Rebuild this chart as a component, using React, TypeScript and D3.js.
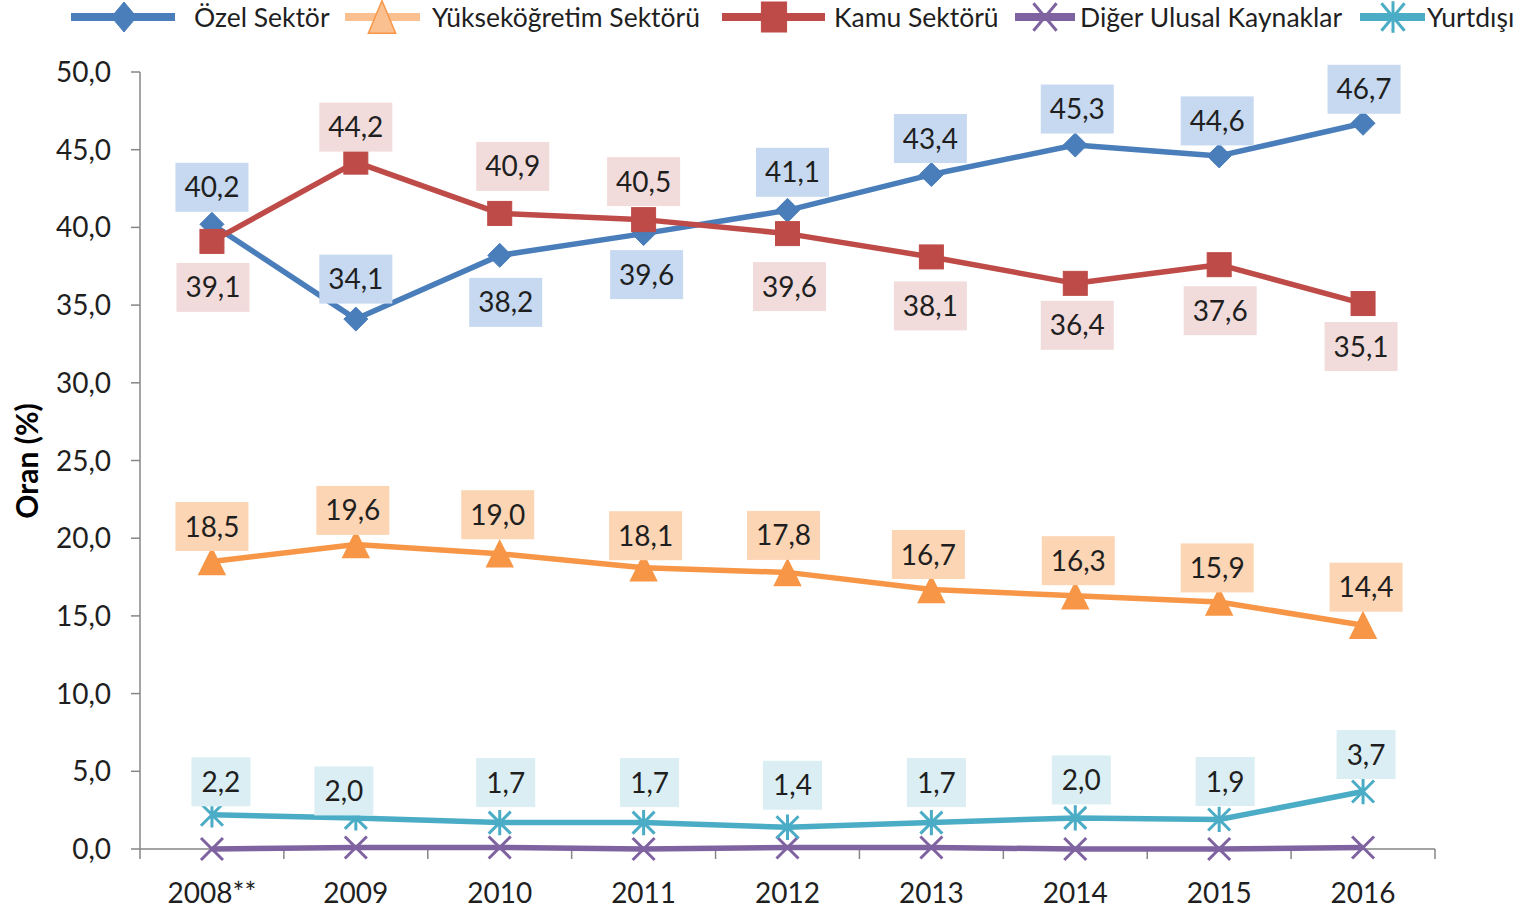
import React from "react";
import * as d3 from "d3";

const categories = ["2008**", "2009", "2010", "2011", "2012", "2013", "2014", "2015", "2016"];
const ozel = [40.2, 34.1, 38.2, 39.6, 41.1, 43.4, 45.3, 44.6, 46.7];
const yuksek = [18.5, 19.6, 19.0, 18.1, 17.8, 16.7, 16.3, 15.9, 14.4];
const kamu = [39.1, 44.2, 40.9, 40.5, 39.6, 38.1, 36.4, 37.6, 35.1];
const diger = [0.0, 0.1, 0.1, 0.0, 0.1, 0.1, 0.0, 0.0, 0.1];
const yurtdisi = [2.2, 2.0, 1.7, 1.7, 1.4, 1.7, 2.0, 1.9, 3.7];
const yTicks = [0, 5, 10, 15, 20, 25, 30, 35, 40, 45, 50];

// label nudges (px) relative to the point
const ozelNudge = [[0, -37], [0, -40], [6, 47], [3, 41], [5, -38], [-1, -36], [2, -36], [-2, -35], [1, -34]];
const kamuNudge = [[1, 46], [0, -35], [13, -47], [0, -38], [2, 53], [-1, 49], [2, 42], [1, 46], [-2, 43]];
const yuksekNudge = [[0, -35], [-3, -34], [-2, -39], [2, -32], [-4, -37], [-3, -35], [3, -35], [-2, -34], [3, -38]];
const yurtNudge = [[9, -33], [-12, -27], [6, -40], [6, -40], [5, -42], [5, -40], [6, -38], [6, -38], [3, -37]];

const FONT = "Lato, 'Open Sans', sans-serif";
const fmt = (v: number) => v.toFixed(1).replace(".", ",");

type MarkerKind = "diamond" | "triangle" | "square" | "x" | "star";

function Marker({ kind, x, y, color, fill, sx = 1, sy = 1 }: { kind: MarkerKind; x: number; y: number; color: string; fill?: string; sx?: number; sy?: number }) {
  const f = fill || color;
  if (kind === "diamond") {
    const w = 12 * sx, h = 12 * sy;
    return <path d={`M${x},${y - h}L${x + w},${y}L${x},${y + h}L${x - w},${y}Z`} fill={f} stroke={color} strokeWidth={1} />;
  }
  if (kind === "square") {
    const w = 12 * sx, h = 12 * sy;
    return <rect x={x - w} y={y - h} width={2 * w} height={2 * h} fill={f} stroke={color} strokeWidth={1} />;
  }
  if (kind === "triangle") {
    const w = 13 * sx, h = 13 * sy;
    return <path d={`M${x},${y - h}L${x + w},${y + h}L${x - w},${y + h}Z`} fill={f} stroke={color} strokeWidth={1.5} />;
  }
  if (kind === "x") {
    const w = 11 * sx, h = 11 * sy;
    return <path d={`M${x - w},${y - h}L${x + w},${y + h}M${x - w},${y + h}L${x + w},${y - h}`} stroke={color} strokeWidth={3} fill="none" />;
  }
  const w = 11 * sx, h = 11 * sy;
  return <path d={`M${x - w},${y - h}L${x + w},${y + h}M${x - w},${y + h}L${x + w},${y - h}M${x},${y - h * 1.15}L${x},${y + h * 1.15}`} stroke={color} strokeWidth={3} fill="none" />;
}

export default function App() {
  const W = 1526, H = 910;
  const left = 140, right = 1435, top = 72, bottom = 849;
  const x = d3.scaleBand<string>().domain(categories).range([left, right]).paddingInner(0).paddingOuter(0);
  const bw = x.bandwidth();
  const cx = (c: string) => (x(c) as number) + bw / 2;
  const y = d3.scaleLinear().domain([0, 50]).range([bottom, top]);

  const series = [
    { name: "Özel Sektör", values: ozel, color: "#4a7ebb", kind: "diamond" as MarkerKind, labelBg: "#c6d9f0", nudge: ozelNudge },
    { name: "Yükseköğretim Sektörü", values: yuksek, color: "#f79646", kind: "triangle" as MarkerKind, labelBg: "#fcd5b4", nudge: yuksekNudge },
    { name: "Kamu Sektörü", values: kamu, color: "#be4b48", kind: "square" as MarkerKind, labelBg: "#f2dcdb", nudge: kamuNudge },
    { name: "Diğer Ulusal Kaynaklar", values: diger, color: "#7f63a1", kind: "x" as MarkerKind, labelBg: null, nudge: null },
    { name: "Yurtdışı", values: yurtdisi, color: "#4bacc6", kind: "star" as MarkerKind, labelBg: "#daeef3", nudge: yurtNudge },
  ];

  const line = d3.line<number>().x((_, i) => cx(categories[i])).y((d) => y(d));

  const legendItems = [
    { s: 0, l1: 71, l2: 175, m: 124, t: 194, lineColor: "#4a7ebb", fill: undefined as string | undefined, mcolor: "#4a7ebb" },
    { s: 1, l1: 345, l2: 420, m: 382, t: 432, lineColor: "#fac090", fill: "#fac090", mcolor: "#f79646" },
    { s: 2, l1: 722, l2: 825, m: 774, t: 834, lineColor: "#be4b48", fill: undefined, mcolor: "#be4b48" },
    { s: 3, l1: 1015, l2: 1075, m: 1045, t: 1080, lineColor: "#7f63a1", fill: undefined, mcolor: "#7f63a1" },
    { s: 4, l1: 1360, l2: 1425, m: 1393, t: 1427, lineColor: "#4bacc6", fill: undefined, mcolor: "#4bacc6" },
  ];

  const axisColor = "#868686";
  const textColor = "#1f1f1f";

  return (
    <svg width={W} height={H} style={{ position: "absolute", left: 0, top: 0, background: "#fff" }} fontFamily={FONT}>
      <rect x={0} y={0} width={W} height={H} fill="#fff" />
      {/* Legend */}
      {legendItems.map((li) => {
        const s = series[li.s];
        return (
          <g key={s.name}>
            <line x1={li.l1} x2={li.l2} y1={17} y2={17} stroke={li.lineColor} strokeWidth={8} />
            <Marker kind={s.kind} x={li.m} y={17} color={li.mcolor} fill={li.fill} sx={1.05} sy={1.25} />
            <text x={li.t} y={27} fontSize={26.5} fill={textColor}>{s.name}</text>
          </g>
        );
      })}

      {/* Y axis */}
      <line x1={left} x2={left} y1={top} y2={bottom} stroke={axisColor} strokeWidth={1.5} />
      {yTicks.map((t) => (
        <g key={t}>
          <line x1={left - 9} x2={left} y1={y(t)} y2={y(t)} stroke={axisColor} strokeWidth={1.5} />
          <text x={111} y={y(t)} dy="0.36em" textAnchor="end" fontSize={28} fill={textColor}>{fmt(t)}</text>
        </g>
      ))}
      {/* X axis */}
      <line x1={left} x2={right} y1={bottom} y2={bottom} stroke={axisColor} strokeWidth={1.5} />
      {[...categories.map((c) => x(c) as number), right].map((p, i) => (
        <line key={i} x1={p} x2={p} y1={bottom} y2={bottom + 10} stroke={axisColor} strokeWidth={1.5} />
      ))}
      {categories.map((c) => (
        <text key={c} x={cx(c)} y={903} textAnchor="middle" fontSize={28} fill={textColor}>{c}</text>
      ))}

      {/* Y title */}
      <text transform={`translate(38,461) rotate(-90)`} textAnchor="middle" fontSize={30} fontWeight="bold" fill="#000">Oran (%)</text>

      {/* Lines & markers */}
      {series.map((s) => (
        <g key={s.name}>
          <path d={line(s.values) || ""} fill="none" stroke={s.color} strokeWidth={5.5} strokeLinejoin="round" />
          {s.values.map((v, i) => (
            <Marker key={i} kind={s.kind} x={cx(categories[i])} y={y(v)} color={s.color} />
          ))}
        </g>
      ))}

      {/* Data labels */}
      {series.map((s) =>
        s.labelBg && s.nudge
          ? s.values.map((v, i) => {
              const lx = cx(categories[i]) + s.nudge![i][0];
              const ly = y(v) + s.nudge![i][1];
              const txt = fmt(v);
              const w = txt.length * 14 + 17;
              const h = 49;
              return (
                <g key={s.name + i}>
                  <rect x={lx - w / 2} y={ly - h / 2} width={w} height={h} fill={s.labelBg!} />
                  <text x={lx} y={ly} dy="0.36em" textAnchor="middle" fontSize={28} fill={textColor}>{txt}</text>
                </g>
              );
            })
          : null
      )}
    </svg>
  );
}
